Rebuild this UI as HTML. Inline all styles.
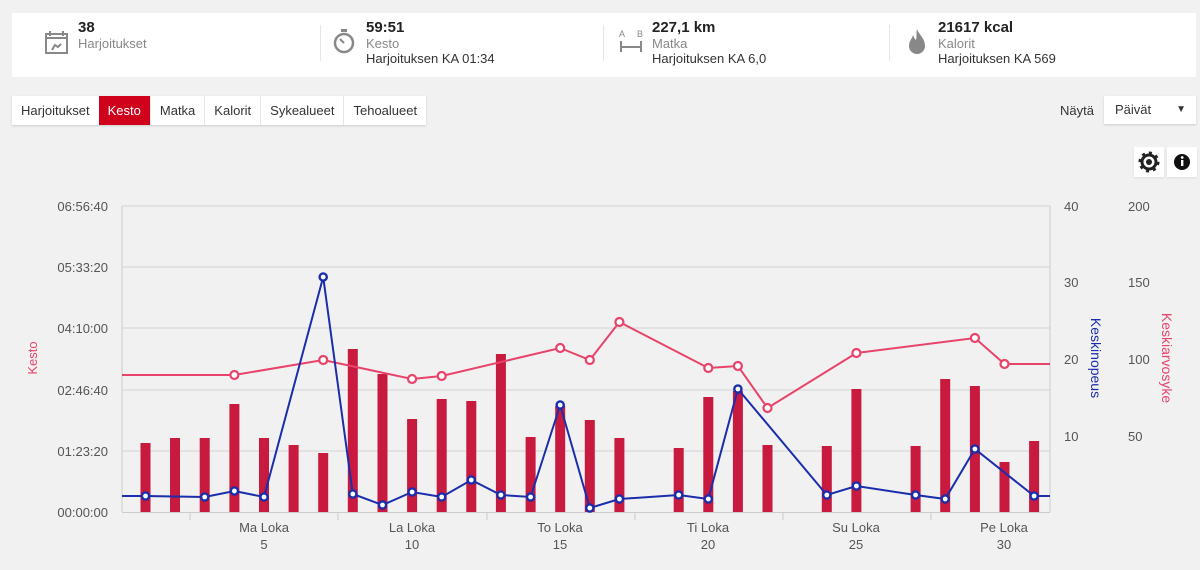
<!DOCTYPE html>
<html><head><meta charset="utf-8"><style>
body{margin:0;width:1200px;height:570px;background:#f1f1f1;font-family:"Liberation Sans",sans-serif;overflow:hidden;position:relative}
.top{position:absolute;left:12px;top:13px;width:1184px;height:64px;background:#fff}
.st{position:absolute;top:7px;font-size:13px;color:#333;line-height:15px}
.st b{font-size:15px;color:#222;display:block;line-height:16px}
.st .g{color:#888}
.sep{position:absolute;top:12px;width:1px;height:36px;background:#e6e6e6}
.tabs{position:absolute;left:12px;top:96px;height:29px;background:#fff;box-shadow:0 1px 2px #ccc;display:flex;font-size:13px;color:#333}
.tabs span{padding:0 9px;line-height:29px;border-left:1px solid #e5e5e5}
.tabs span:first-child{border:none}
.tabs .a{background:#d0021b;color:#fff;border:none}
.sel{position:absolute;left:1104px;top:96px;width:92px;height:28px;background:#fff;box-shadow:0 1px 2px #ccc;font-size:13px;line-height:28px;color:#333}
.btn{position:absolute;top:147px;width:30px;height:30px;background:#fff;box-shadow:0 1px 2px #ddd}
</style></head><body>
<div class="top">
<div class="st" style="left:66px"><b>38</b><span class="g">Harjoitukset</span></div>
<div class="sep" style="left:308px"></div>
<div class="st" style="left:354px"><b>59:51</b><span class="g">Kesto</span><br>Harjoituksen KA 01:34</div>
<div class="sep" style="left:591px"></div>
<div class="st" style="left:640px"><b>227,1 km</b><span class="g">Matka</span><br>Harjoituksen KA 6,0</div>
<div class="sep" style="left:877px"></div>
<div class="st" style="left:926px"><b>21617 kcal</b><span class="g">Kalorit</span><br>Harjoituksen KA 569</div>
<svg style="position:absolute;left:32px;top:16px" width="26" height="26"><rect x="2" y="5" width="21" height="19" fill="none" stroke="#888" stroke-width="2"/><line x1="6" y1="2" x2="6" y2="7" stroke="#888" stroke-width="2"/><line x1="19" y1="2" x2="19" y2="7" stroke="#888" stroke-width="2"/><line x1="2" y1="9" x2="23" y2="9" stroke="#888" stroke-width="2"/><path d="M8 21l3-5 3 2 3-3" stroke="#888" stroke-width="2" fill="none"/></svg>
<svg style="position:absolute;left:320px;top:14px" width="24" height="28"><circle cx="12" cy="16" r="9" fill="none" stroke="#888" stroke-width="2.5"/><rect x="9" y="2" width="6" height="3" fill="#888"/><line x1="12" y1="16" x2="8" y2="12" stroke="#888" stroke-width="2"/></svg>
<svg style="position:absolute;left:606px;top:15px" width="28" height="28"><text x="1" y="9" font-size="9" fill="#888" font-family="Liberation Sans">A</text><text x="19" y="9" font-size="9" fill="#888" font-family="Liberation Sans">B</text><line x1="3" y1="13" x2="3" y2="24" stroke="#888" stroke-width="2"/><line x1="23" y1="13" x2="23" y2="24" stroke="#888" stroke-width="2"/><line x1="3" y1="19" x2="23" y2="19" stroke="#888" stroke-width="2"/></svg>
<svg style="position:absolute;left:894px;top:14px" width="22" height="30"><path d="M11 2c2 6 8 9 8 17a8 8 0 0 1-16 0c0-5 3-7 4-11 1 3 2 4 3 5 1-4 0-7 1-11z" fill="#888"/></svg>
</div>
<div class="tabs"><span>Harjoitukset</span><span class="a">Kesto</span><span>Matka</span><span>Kalorit</span><span>Sykealueet</span><span>Tehoalueet</span></div>
<div style="position:absolute;left:1060px;top:103px;font-size:13px;color:#333">Näytä</div>
<div class="sel"><span style="margin-left:11px">Päivät</span><span style="position:absolute;right:10px;font-size:10px">▼</span></div>
<div class="btn" style="left:1134px"><svg width="30" height="30"><circle cx="15" cy="15" r="7" fill="none" stroke="#222" stroke-width="3"/><circle cx="15" cy="15" r="9" fill="none" stroke="#222" stroke-width="3" stroke-dasharray="3 4"/><circle cx="15" cy="15" r="3" fill="#222"/></svg></div>
<div class="btn" style="left:1167px"><svg width="30" height="30"><circle cx="15" cy="15" r="8" fill="#111"/><rect x="14" y="13" width="2.4" height="6" fill="#fff"/><circle cx="15.2" cy="10.5" r="1.4" fill="#fff"/></svg></div>
<svg style="position:absolute;left:0;top:0" width="1200" height="570" font-family="Liberation Sans" font-size="13" fill="#555">
<g stroke="#dedede" stroke-width="1.5"><line x1="122" y1="206" x2="1050" y2="206"/><line x1="122" y1="267" x2="1050" y2="267"/><line x1="122" y1="328" x2="1050" y2="328"/><line x1="122" y1="390" x2="1050" y2="390"/><line x1="122" y1="451" x2="1050" y2="451"/></g>
<g stroke="#ccc"><line x1="122" y1="206" x2="122" y2="512"/><line x1="1050" y1="206" x2="1050" y2="512"/><line x1="122" y1="512.5" x2="1050" y2="512.5"/>
<line x1="190" y1="512" x2="190" y2="520"/><line x1="338" y1="512" x2="338" y2="520"/><line x1="487" y1="512" x2="487" y2="520"/><line x1="635" y1="512" x2="635" y2="520"/><line x1="783" y1="512" x2="783" y2="520"/><line x1="931" y1="512" x2="931" y2="520"/></g>
<g text-anchor="end"><text x="108" y="211">06:56:40</text><text x="108" y="272">05:33:20</text><text x="108" y="333">04:10:00</text><text x="108" y="395">02:46:40</text><text x="108" y="456">01:23:20</text><text x="108" y="517">00:00:00</text></g>
<g><text x="1064" y="211">40</text><text x="1064" y="287">30</text><text x="1064" y="364">20</text><text x="1064" y="441">10</text>
<text x="1128" y="211">200</text><text x="1128" y="287">150</text><text x="1128" y="364">100</text><text x="1128" y="441">50</text></g>
<g text-anchor="middle"><text x="264" y="532">Ma Loka</text><text x="264" y="549">5</text><text x="412" y="532">La Loka</text><text x="412" y="549">10</text><text x="560" y="532">To Loka</text><text x="560" y="549">15</text><text x="708" y="532">Ti Loka</text><text x="708" y="549">20</text><text x="856" y="532">Su Loka</text><text x="856" y="549">25</text><text x="1004" y="532">Pe Loka</text><text x="1004" y="549">30</text></g>
<text transform="translate(37,358) rotate(-90)" text-anchor="middle" fill="#e8436a">Kesto</text>
<text transform="translate(1091,358) rotate(90)" text-anchor="middle" fill="#1a2dab" font-size="14">Keskinopeus</text>
<text transform="translate(1162,358) rotate(90)" text-anchor="middle" fill="#e8436a" font-size="14">Keskiarvosyke</text>
<g fill="#c8193f">
<rect x="140.5" y="443" width="10" height="69"/><rect x="170" y="438" width="10" height="74"/><rect x="199.7" y="438" width="10" height="74"/><rect x="229.4" y="404" width="10" height="108"/><rect x="259" y="438" width="10" height="74"/><rect x="288.6" y="445" width="10" height="67"/><rect x="318.2" y="453" width="10" height="59"/><rect x="347.8" y="349" width="10" height="163"/><rect x="377.5" y="374" width="10" height="138"/><rect x="407.1" y="419" width="10" height="93"/><rect x="436.7" y="399" width="10" height="113"/><rect x="466.3" y="401" width="10" height="111"/><rect x="495.9" y="354" width="10" height="158"/><rect x="525.6" y="437" width="10" height="75"/><rect x="555.2" y="406" width="10" height="106"/><rect x="584.8" y="420" width="10" height="92"/><rect x="614.4" y="438" width="10" height="74"/><rect x="673.7" y="448" width="10" height="64"/><rect x="703.3" y="397" width="10" height="115"/><rect x="732.9" y="391" width="10" height="121"/><rect x="762.5" y="445" width="10" height="67"/><rect x="821.8" y="446" width="10" height="66"/><rect x="851.4" y="389" width="10" height="123"/><rect x="910.6" y="446" width="10" height="66"/><rect x="940.2" y="379" width="10" height="133"/><rect x="969.9" y="386" width="10" height="126"/><rect x="999.5" y="462" width="10" height="50"/><rect x="1029.1" y="441" width="10" height="71"/>
</g>
<polyline fill="none" stroke="#e8436a" stroke-width="2" points="122,375 234.4,375 323.2,360 412.1,379 441.7,376 560.2,348 589.8,360 619.4,322 708.3,368 737.9,366 767.5,408 856.4,353 974.9,338 1004.5,364 1050,364"/>
<g fill="#fff" stroke="#e8436a" stroke-width="2.2"><circle cx="234.4" cy="375" r="4"/><circle cx="323.2" cy="360" r="4"/><circle cx="412.1" cy="379" r="4"/><circle cx="441.7" cy="376" r="4"/><circle cx="560.2" cy="348" r="4"/><circle cx="589.8" cy="360" r="4"/><circle cx="619.4" cy="322" r="4"/><circle cx="708.3" cy="368" r="4"/><circle cx="737.9" cy="366" r="4"/><circle cx="767.5" cy="408" r="4"/><circle cx="856.4" cy="353" r="4"/><circle cx="974.9" cy="338" r="4"/><circle cx="1004.5" cy="364" r="4"/></g>
<polyline fill="none" stroke="#1a2dab" stroke-width="2" points="122,496 145.5,496 204.7,497 234.4,491 264,497 323.2,277 352.8,494 382.5,505 412.1,492 441.7,497 471.3,480 500.9,495 530.6,497 560.2,405 589.8,508 619.4,499 678.7,495 708.3,499 737.9,389 826.8,495 856.4,486 915.6,495 945.2,499 974.9,449 1034.1,496 1050,496"/>
<g fill="#fff" stroke="#1a2dab" stroke-width="2.4"><circle cx="145.5" cy="496" r="3.6"/><circle cx="204.7" cy="497" r="3.6"/><circle cx="234.4" cy="491" r="3.6"/><circle cx="264" cy="497" r="3.6"/><circle cx="323.2" cy="277" r="3.6"/><circle cx="352.8" cy="494" r="3.6"/><circle cx="382.5" cy="505" r="3.6"/><circle cx="412.1" cy="492" r="3.6"/><circle cx="441.7" cy="497" r="3.6"/><circle cx="471.3" cy="480" r="3.6"/><circle cx="500.9" cy="495" r="3.6"/><circle cx="530.6" cy="497" r="3.6"/><circle cx="560.2" cy="405" r="3.6"/><circle cx="589.8" cy="508" r="3.6"/><circle cx="619.4" cy="499" r="3.6"/><circle cx="678.7" cy="495" r="3.6"/><circle cx="708.3" cy="499" r="3.6"/><circle cx="737.9" cy="389" r="3.6"/><circle cx="826.8" cy="495" r="3.6"/><circle cx="856.4" cy="486" r="3.6"/><circle cx="915.6" cy="495" r="3.6"/><circle cx="945.2" cy="499" r="3.6"/><circle cx="974.9" cy="449" r="3.6"/><circle cx="1034.1" cy="496" r="3.6"/></g>
</svg>
</body></html>
